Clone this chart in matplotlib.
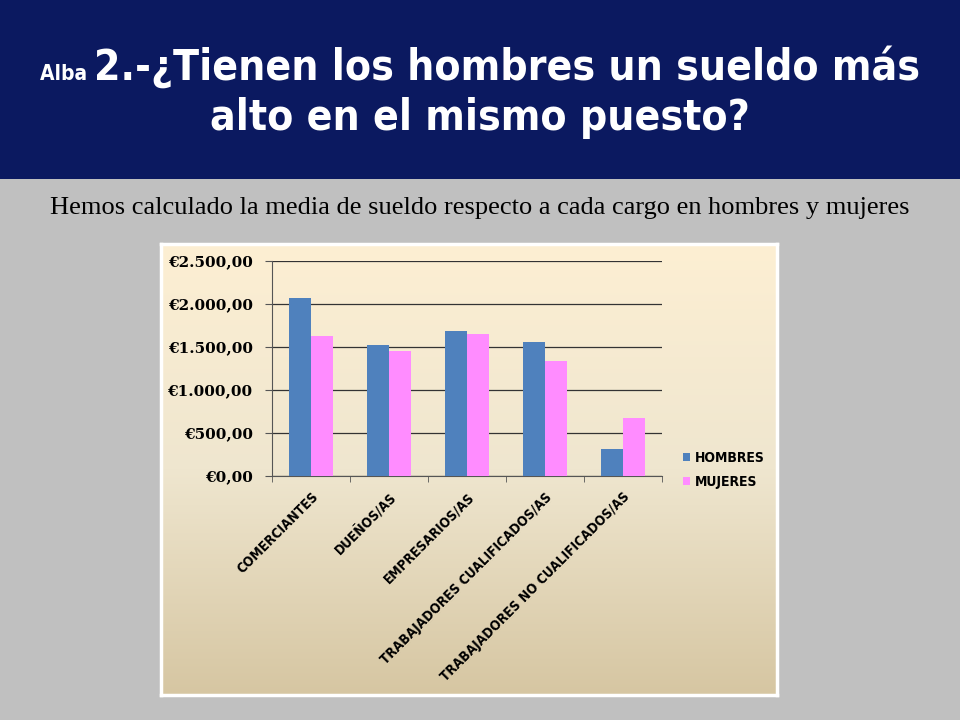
import matplotlib
matplotlib.use("Agg")
import matplotlib.pyplot as plt
import numpy as np
from matplotlib.patches import Rectangle
from matplotlib.colors import LinearSegmentedColormap

categories = ["COMERCIANTES", "DUEÑOS/AS", "EMPRESARIOS/AS",
              "TRABAJADORES CUALIFICADOS/AS", "TRABAJADORES NO CUALIFICADOS/AS"]
hombres = [2070, 1520, 1685, 1555, 315]
mujeres = [1630, 1455, 1655, 1335, 670]
yticks = [0, 500, 1000, 1500, 2000, 2500]
ytick_labels = ["€0,00", "€500,00", "€1.000,00", "€1.500,00", "€2.000,00", "€2.500,00"]
series_names = ["HOMBRES", "MUJERES"]
title_small = "Alba "
title_line1 = "2.-¿Tienen los hombres un sueldo más"
title_line2 = "alto en el mismo puesto?"
subtitle = "Hemos calculado la media de sueldo respecto a cada cargo en hombres y mujeres"

W, H = 960, 720
fig = plt.figure(figsize=(9.6, 7.2), dpi=100, facecolor="#c0c0c0")

def fx(px):
    return px / W

def fy(py):
    return 1 - py / H

# Header band
fig.patches.append(Rectangle((0, fy(179)), 1, 179 / H, transform=fig.transFigure,
                             facecolor="#0b1960", edgecolor="none", zorder=0))

cond = dict(family="DejaVu Sans", fontstretch="condensed", fontweight="bold")
fig.canvas.draw()
r = fig.canvas.get_renderer()
t_small = fig.text(0, fy(80), title_small, color="white", fontsize=15, va="baseline", **cond)
t_big = fig.text(0, fy(80), title_line1, color="white", fontsize=30.5, va="baseline", **cond)
w1 = t_small.get_window_extent(r).width
w2 = t_big.get_window_extent(r).width
x0 = (W - (w1 + w2)) / 2
t_small.set_x(fx(x0))
t_big.set_x(fx(x0 + w1))
fig.text(0.5, fy(130), title_line2, color="white", fontsize=30.5, va="baseline", ha="center", **cond)

fig.text(0.5, fy(214), subtitle, fontsize=19, family="Liberation Serif", ha="center",
         va="baseline", color="black")

# Chart panel with gradient
px0, py0, px1, py1 = 161, 244, 777, 695
bg = fig.add_axes([fx(px0), fy(py1), (px1 - px0) / W, (py1 - py0) / H], zorder=1)
cmap = LinearSegmentedColormap.from_list("g", ["#fdefd3", "#efe6cf", "#d6c6a2"])
grad = np.linspace(0, 1, 256).reshape(-1, 1)
bg.imshow(grad, aspect="auto", cmap=cmap, extent=[0, 1, 0, 1], origin="upper")
bg.set_xlim(0, 1)
bg.set_ylim(0, 1)
bg.set_xticks([])
bg.set_yticks([])
for s in bg.spines.values():
    s.set_edgecolor("white")
    s.set_linewidth(2.5)

# Plot axes
ax = fig.add_axes([fx(272), fy(476), 390 / W, 215 / H], zorder=2)
ax.patch.set_alpha(0)
x = np.arange(len(categories))
bw = 0.285
b1 = ax.bar(x - bw / 2, hombres, bw, color="#4f81bd", label=series_names[0], zorder=3)
b2 = ax.bar(x + bw / 2, mujeres, bw, color="#ff8cff", label=series_names[1], zorder=3)
ax.set_xlim(-0.5, len(categories) - 0.5)
ax.set_ylim(0, 2500)
ax.set_yticks(yticks)
ax.set_yticklabels(ytick_labels, family="DejaVu Serif", fontweight="bold", fontsize=11)
ax.yaxis.grid(True, color="#333333", linewidth=0.9, zorder=1)
ax.set_axisbelow(True)
ax.tick_params(axis="y", length=5, color="#555555", pad=9)
ax.set_xticks(x)
ax.set_xticklabels(categories, rotation=45, ha="right", rotation_mode="anchor",
                   fontsize=9.8, **cond)
ax.set_xticks(np.arange(-0.5, len(categories)), minor=True)
ax.tick_params(axis="x", which="major", length=0, pad=10)
ax.tick_params(axis="x", which="minor", length=4, color="#555555")
for side in ["top", "right"]:
    ax.spines[side].set_visible(False)
ax.spines["left"].set_color("#555555")
ax.spines["bottom"].set_color("#555555")

leg = fig.legend(handles=[b1, b2], labels=series_names, loc="center left",
                 bbox_to_anchor=(fx(670), fy(470)), frameon=False,
                 prop=dict(family="DejaVu Sans", stretch="condensed", weight="bold", size=10),
                 handlelength=0.55, handleheight=0.55, handletextpad=0.35, labelspacing=0.75)
leg.set_zorder(5)

fig.savefig("out.png", dpi=100, facecolor=fig.get_facecolor())
